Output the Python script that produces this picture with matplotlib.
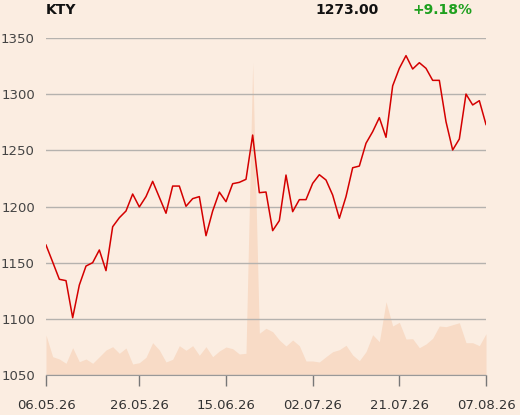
import matplotlib
matplotlib.use("Agg")
import matplotlib.pyplot as plt
import numpy as np

# ---- data ----
prices = [1165.7, 1150.6, 1135.2, 1134.0, 1101.0, 1130.1, 1147.0, 1150.0, 1161.3, 1142.9,
          1182.0, 1190.0, 1196.0, 1211.1, 1199.6, 1208.8, 1222.4, 1208.2, 1194.0, 1218.2,
          1218.2, 1200.2, 1207.0, 1208.8, 1174.0, 1196.0, 1212.8, 1204.3, 1220.3, 1221.5,
          1224.2, 1263.6, 1212.3, 1212.9, 1178.5, 1187.4, 1228.0, 1195.4, 1206.1, 1206.1,
          1220.6, 1228.3, 1223.6, 1210.2, 1189.5, 1208.8, 1234.5, 1236.0, 1256.3, 1266.6,
          1279.1, 1261.6, 1307.4, 1323.0, 1334.3, 1322.4, 1328.0, 1323.0, 1312.3, 1312.3,
          1275.5, 1250.3, 1260.1, 1300.1, 1290.4, 1294.2, 1273.0]
volume = [4000, 1830, 1600, 1170, 2730, 1330, 1600, 1170, 1830, 2500,
          2830, 2170, 2700, 1100, 1230, 1770, 3230, 2500, 1300, 1570,
          2930, 2470, 2930, 1970, 2830, 1830, 2400, 2800, 2630, 2100,
          2170, 31230, 4170, 4670, 4330, 3500, 2900, 3500, 2930, 1400,
          1400, 1300, 1830, 2330, 2530, 2970, 2000, 1430, 2330, 4030,
          3330, 7330, 4900, 5270, 3600, 3630, 2730, 3100, 3670, 4900,
          4830, 5030, 5230, 3230, 3230, 2930, 4130]
tick_idx = [0, 14, 27, 40, 53, 66]
tick_labels = ["06.05.26", "26.05.26", "15.06.26", "02.07.26", "21.07.26", "07.08.26"]
yticks = [1050, 1100, 1150, 1200, 1250, 1300, 1350]
title = "KTY"
last_price = "1273.00"
change = "+9.18%"

bg = "#FBEDE1"
fig = plt.figure(figsize=(5.2, 4.15), dpi=100, facecolor=bg)
ax = fig.add_axes([46/520, 1-375/415, 440/520, 337/415])
ax2 = ax.twinx()
ax.set_zorder(ax2.get_zorder() + 1)
ax.patch.set_visible(False)
ax2.set_facecolor(bg)

x = np.arange(len(prices))
ax2.fill_between(x, 0, volume, color="#F8DBC6", linewidth=0)
ax2.set_ylim(0, 33700)
ax2.set_yticks([])
for s in ax2.spines.values():
    s.set_visible(False)

ax.plot(x, prices, color="#D40000", linewidth=1.1, zorder=3)
ax.set_xlim(0, len(prices) - 1)
ax.set_ylim(1050, 1350)
ax.set_yticks(yticks)
ax.set_yticklabels([str(v) for v in yticks])
ax.yaxis.grid(True, color="#B5B2AE", linewidth=1.0, zorder=1)
ax.set_axisbelow(True)
ax.tick_params(axis="y", length=0, pad=8, labelsize=9.5, labelcolor="#444444")
ax.set_xticks(tick_idx)
ax.set_xticklabels(tick_labels)
ax.tick_params(axis="x", length=8, width=1, color="#777777", pad=9, labelsize=9.5,
               labelcolor="#333333")
for k in ["top", "right", "left"]:
    ax.spines[k].set_visible(False)
ax.spines["bottom"].set_color("#999999")

fig.text(46/520, 1-10/415, title, fontsize=10, fontweight="bold", color="#111111",
         ha="left", va="center")
fig.text(379/520, 1-10/415, last_price, fontsize=10, fontweight="bold", color="#111111",
         ha="right", va="center")
fig.text(412/520, 1-10/415, change, fontsize=10, fontweight="bold", color="#1EA01E",
         ha="left", va="center")

fig.savefig("out.png", dpi=100, facecolor=bg)
